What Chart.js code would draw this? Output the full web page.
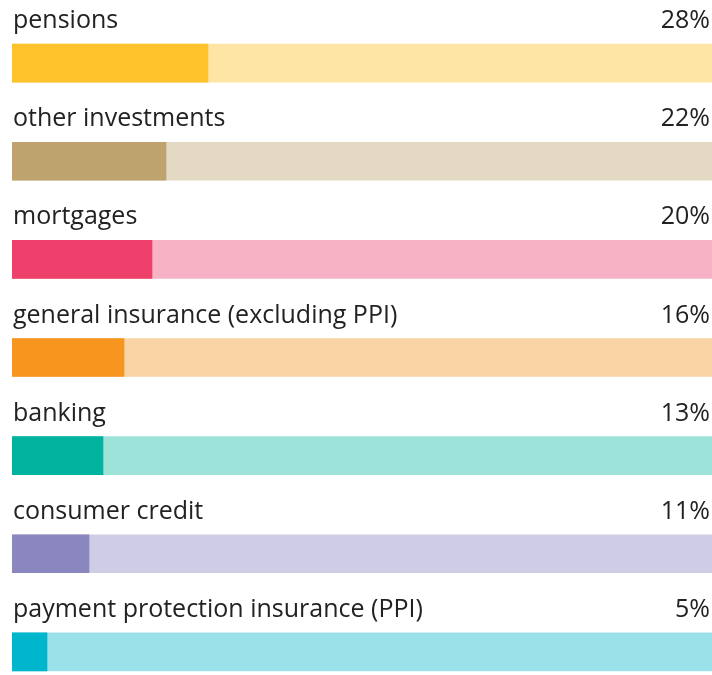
<!doctype html>
<html lang="en">
  <head>
    <meta charset="utf-8">
    <title>Complaints by product</title>
    <script src="https://cdn.jsdelivr.net/npm/chart.js"></script>
    <style>
      html, body { margin: 0; padding: 0; background: #fff; overflow: hidden; }
      #wrap { width: 712px; height: 702px; }
    </style>
  </head>
  <body>
    <div id="wrap">
      <canvas id="shareChart" width="712" height="702"></canvas>
    </div>

<script>
    var products = [
      "pensions",
      "other investments",
      "mortgages",
      "general insurance (excluding PPI)",
      "banking",
      "consumer credit",
      "payment protection insurance (PPI)"
    ];
    var shares = [28, 22, 20, 16, 13, 11, 5];
    var fullScale = [100, 100, 100, 100, 100, 100, 100];

    var strongColours = ["#fec32b", "#bfa36f", "#ef406b", "#f7951f", "#00b39e", "#8a86be", "#00b6cc"];
    var paleColours = ["#fee5a6", "#e4d9c2", "#f7b3c5", "#f9d4a5", "#9ce2d8", "#cfcce6", "#9ae1e9"];

    const LABEL_FONT = "25px 'Open Sans', sans-serif";
    const BAR_HEIGHT = 38;

    // writes the product name above each bar and the share on the right
    const rowLabels = {
      id: "rowLabels",
      afterDatasetsDraw(chart) {
        const ctx = chart.ctx;
        const area = chart.chartArea;
        const bars = chart.getDatasetMeta(0).data;
        ctx.save();
        ctx.font = LABEL_FONT;
        ctx.fillStyle = "#222222";
        ctx.textBaseline = "alphabetic";
        bars.forEach(function (bar, i) {
          const baseline = bar.y - BAR_HEIGHT / 2 - 16;
          ctx.textAlign = "left";
          ctx.fillText(products[i], area.left + 1, baseline);
          ctx.textAlign = "right";
          ctx.fillText(shares[i] + "%", area.right - 2, baseline);
        });
        ctx.restore();
      }
    };

    new Chart(document.getElementById("shareChart"), {
      type: "bar",
      data: {
        labels: products,
        datasets: [
          {
            label: "share",
            data: shares,
            backgroundColor: strongColours,
            order: 0
          },
          {
            label: "scale",
            data: fullScale,
            backgroundColor: paleColours,
            order: 1
          }
        ]
      },
      options: {
        indexAxis: "y",
        responsive: false,
        animation: false,
        layout: { padding: { left: 12, right: 0, top: 14, bottom: 1 } },
        datasets: {
          bar: { barThickness: BAR_HEIGHT, grouped: false, borderWidth: 0 }
        },
        scales: {
          x: { min: 0, max: 100, display: false },
          y: { display: false }
        },
        plugins: {
          legend: { display: false },
          tooltip: { enabled: false }
        }
      },
      plugins: [rowLabels]
    });
</script>
  </body>
</html>
